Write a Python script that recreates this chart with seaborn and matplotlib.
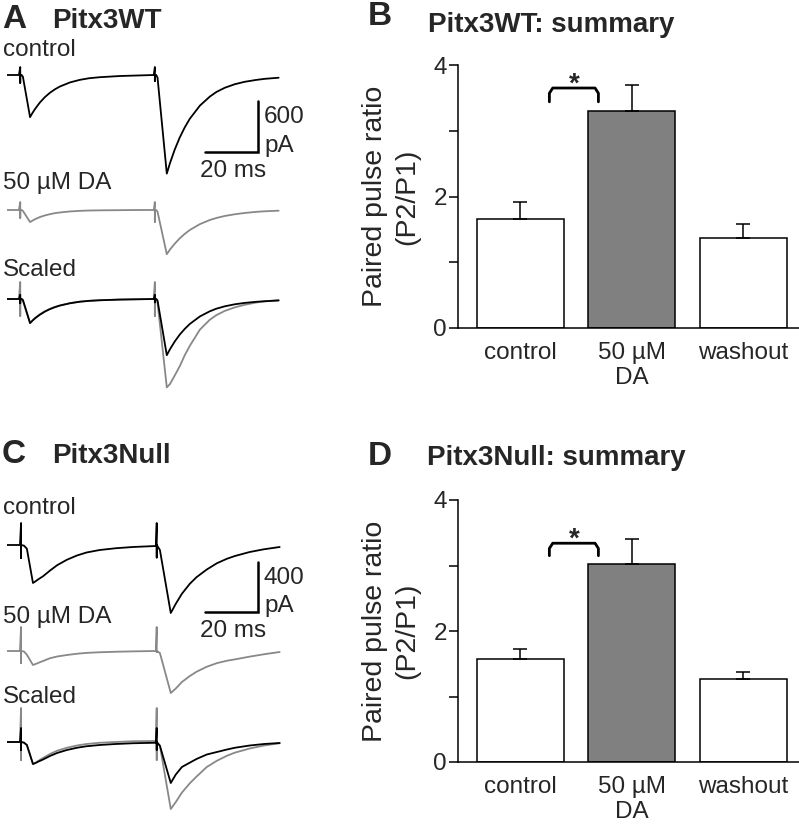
import matplotlib
matplotlib.use("Agg")
import matplotlib.pyplot as plt
import numpy as np
import seaborn as sns

# --- trace data (time in ms, current in pA) ---
T_A = [0, 4.5, 5, 5, 5, 5.5,
       6, 8.7, 9.6, 10.6, 12.4, 14.3, 16.2, 18.1, 20, 23.8, 27.5, 31, 35, 42.6, 50,
       55.4, 55.8, 55.8, 55.8, 56.3, 56.8,
       60.3, 61.5, 63.3, 65.2, 67.1, 69, 72.8, 76.5, 79, 82.2, 86, 89.7, 94, 97.3, 102.5]
WT_CONTROL = [0, 0, 94, -94, 0, 0,
              -20, -496, -447, -399, -324, -260, -209, -168, -135, -87, -57, -38, -26, -12, -5,
              0, 94, -70, 0, 0, -30,
              -1160, -1037, -877, -734, -615, -514, -360, -255, -200, -150, -108, -80, -58, -45, -32]
WT_DA = [0, 0, 94, -94, 0, 0,
         -10, -142, -125, -108, -83, -64, -49, -37, -29, -17, -10, -6, -4, -2, 0,
         0, 94, -140, 0, 0, -20,
         -520, -465, -396, -333, -280, -235, -166, -118, -94, -70, -50, -35, -22, -15, -8]
WT_SCALED_CONTROL = [0, 0, 50, -50, 0, 0,
                     -11, -283, -255, -227, -185, -148, -119, -96, -77, -50, -32, -22, -15, -7, -3,
                     0, 50, -40, 0, 0, -17,
                     -661, -591, -500, -418, -351, -293, -205, -145, -114, -86, -62, -46, -33, -26, -18]
WT_SCALED_DA = [0, 0, 200, -200, 0, 0,
                -20, -284, -252, -222, -180, -144, -116, -93, -75, -48, -31, -21, -14, -6, -2,
                0, 200, -200, 0, 0, -40,
                -1040, -1000, -900, -790, -660, -550, -360, -245, -190, -140, -98, -68, -42, -28, -12]

T_C = [0, 4.9, 5.3, 5.3, 5.3,
       6.4, 7.5, 9.8, 10.8, 11.7, 13.6, 16.2, 18.9, 22.6, 26.4, 30, 35, 41, 47.5, 56.2,
       56.5, 56.5, 56.5, 57.7,
       61.8, 63.7, 66, 69, 71.6, 75.4, 79.2, 83, 86, 91.6, 97, 102.9]
NULL_CONTROL = [0, 0, 176, -104, 0,
                -5, -30, -304, -290, -276, -250, -205, -162, -118, -84, -60, -40, -26, -16, -8,
                176, -100, 0, -40,
                -544, -470, -390, -310, -256, -196, -146, -110, -88, -56, -34, -16]
NULL_DA = [0, 0, 192, -96, 0,
           -4, -30, -112, -104, -96, -80, -58, -44, -32, -22, -15, -10, -6, -3, 0,
           192, -8, 0, -16,
           -336, -300, -248, -200, -165, -126, -97, -78, -67, -45, -26, -8]
NULL_SCALED_CONTROL = [0, 0, 112, -64, 0,
                       -5, -24, -176, -168, -158, -140, -112, -88, -64, -46, -34, -24, -16, -10, -6,
                       112, -64, 0, -30,
                       -328, -260, -200, -165, -135, -100, -80, -60, -46, -28, -16, -8]
NULL_SCALED_DA = [0, 0, 272, -144, 0,
                  -5, -24, -176, -165, -152, -128, -96, -70, -46, -28, -16, -6, 0, 6, 8,
                  272, -144, 0, -30,
                  -536, -480, -405, -330, -275, -200, -150, -110, -85, -52, -28, -10]

# --- summary data (paired pulse ratio, mean and SEM) ---
CONDITIONS = ["control", "50 µM\nDA", "washout"]
WT_PPR = [1.66, 3.30, 1.37]
WT_SEM = [0.25, 0.40, 0.21]
NULL_PPR = [1.57, 3.02, 1.27]
NULL_SEM = [0.15, 0.38, 0.10]

W, H = 799, 825
GRAY = "#888888"
BAR_COLORS = ["white", "#808080", "white"]

sns.set_theme(style="ticks")
plt.rcParams["font.family"] = ["Liberation Sans", "DejaVu Sans"]

fig = plt.figure(figsize=(W / 100, H / 100), dpi=100)


def px_axes(left, top, right, bottom):
    return fig.add_axes([left / W, 1 - bottom / H, (right - left) / W, (bottom - top) / H])


def px_text(x, y, s, **kw):
    fig.text(x / W, 1 - y / H, s, **kw)


def trace_panel(top, bottom, ms_per_px, pa_per_px, base_y, rows, bar_pa, bar_y):
    # rows: list of (label, label_y, baseline_y, [(time, current, color), ...])
    ax = px_axes(7, top, 300, bottom)
    ax.set_xlim(0, (300 - 7) * ms_per_px)
    ax.set_ylim(-(bottom - base_y) * pa_per_px, (base_y - top) * pa_per_px)
    for label, label_y, row_y, lines in rows:
        offset = -(row_y - base_y) * pa_per_px
        for t, cur, color in lines:
            sns.lineplot(x=t, y=np.asarray(cur) + offset, sort=False, estimator=None,
                         color=color, lw=1.3, ax=ax)
        px_text(3, label_y, label, fontsize=17.5, va="center")
    ax.axis("off")
    # scale bars
    x0 = (205 - 7) * ms_per_px
    y0 = -(bar_y - base_y) * pa_per_px
    ax.plot([x0, x0 + 20, x0 + 20], [y0, y0, y0 + bar_pa], color="black", lw=1.8,
            solid_joinstyle="miter")
    bar_top = bar_y - bar_pa / pa_per_px
    px_text(264, bar_top + 16, str(bar_pa), fontsize=17.5, va="center")
    px_text(264, bar_y - 6, "pA", fontsize=17.5, va="center")
    px_text(200, bar_y + 19, "20 ms", fontsize=17.5, va="center")
    return ax


def summary_panel(top, bottom, ppr, sem, bracket):
    ax = px_axes(458, top, 799, bottom)
    sns.barplot(x=CONDITIONS, y=ppr, hue=CONDITIONS, palette=BAR_COLORS, legend=False,
                saturation=1, width=0.78, edgecolor="black", linewidth=1.1, ax=ax)
    ax.errorbar(range(3), ppr, yerr=[np.zeros(3), sem], fmt="none", ecolor="black",
                elinewidth=1.1, capsize=5, capthick=1.1)
    lo, hi, star = bracket
    ax.plot([0.26, 0.26, 0.29, 0.67, 0.70, 0.70], [lo, hi - 0.08, hi, hi, hi - 0.08, lo],
            color="black", lw=2)
    ax.text(0.48, star, "*", ha="center", va="center", fontsize=20, fontweight="bold")
    ax.set_xlim(-0.56, 2.50)
    ax.set_ylim(0, 4)
    ax.set_yticks([0, 2, 4])
    ax.set_yticks([1, 3], minor=True)
    ax.tick_params(axis="y", which="both", direction="out", length=6.5, width=1.1,
                   labelsize=17.5, pad=1.5, color="black")
    ax.tick_params(axis="x", length=0, labelsize=17.5, pad=10)
    ax.set_ylabel("Paired pulse ratio\n(P2/P1)", fontsize=20.5, linespacing=1.3)
    ax.yaxis.set_label_coords(-0.11, 0.5)
    for side in ["top", "right"]:
        ax.spines[side].set_visible(False)
    for side in ["left", "bottom"]:
        ax.spines[side].set_linewidth(1.1)
        ax.spines[side].set_color("black")
    ax.set_xlabel("")
    return ax


# panel A
trace_panel(40, 400, 20 / 53, 600 / 51, 75, [
    ("control", 50, 75, [(T_A, WT_CONTROL, "black")]),
    ("50 µM DA", 183, 210, [(T_A, WT_DA, GRAY)]),
    ("Scaled", 270, 299, [(T_A, WT_SCALED_DA, GRAY), (T_A, WT_SCALED_CONTROL, "black")]),
], 600, 152)

# panel C
trace_panel(490, 825, 20 / 53, 400 / 50, 545, [
    ("control", 508, 545, [(T_C, NULL_CONTROL, "black")]),
    ("50 µM DA", 617, 651, [(T_C, NULL_DA, GRAY)]),
    ("Scaled", 697, 742, [(T_C, NULL_SCALED_DA, GRAY), (T_C, NULL_SCALED_CONTROL, "black")]),
], 400, 612)

# panels B and D
summary_panel(65, 328, WT_PPR, WT_SEM, (3.44, 3.65, 3.70))
summary_panel(500, 762, NULL_PPR, NULL_SEM, (3.15, 3.34, 3.39))

# panel letters and titles
px_text(2, 28, "A", fontsize=24, fontweight="bold", va="baseline")
px_text(52, 28, "Pitx3WT", fontsize=20, fontweight="bold", va="baseline")
px_text(368, 25, "B", fontsize=24, fontweight="bold", va="baseline")
px_text(428, 32, "Pitx3WT: summary", fontsize=20, fontweight="bold", va="baseline")
px_text(2, 463, "C", fontsize=24, fontweight="bold", va="baseline")
px_text(52, 463, "Pitx3Null", fontsize=20, fontweight="bold", va="baseline")
px_text(368, 465, "D", fontsize=24, fontweight="bold", va="baseline")
px_text(427, 465, "Pitx3Null: summary", fontsize=20, fontweight="bold", va="baseline")

fig.savefig("out.png", dpi=100, facecolor="white")
